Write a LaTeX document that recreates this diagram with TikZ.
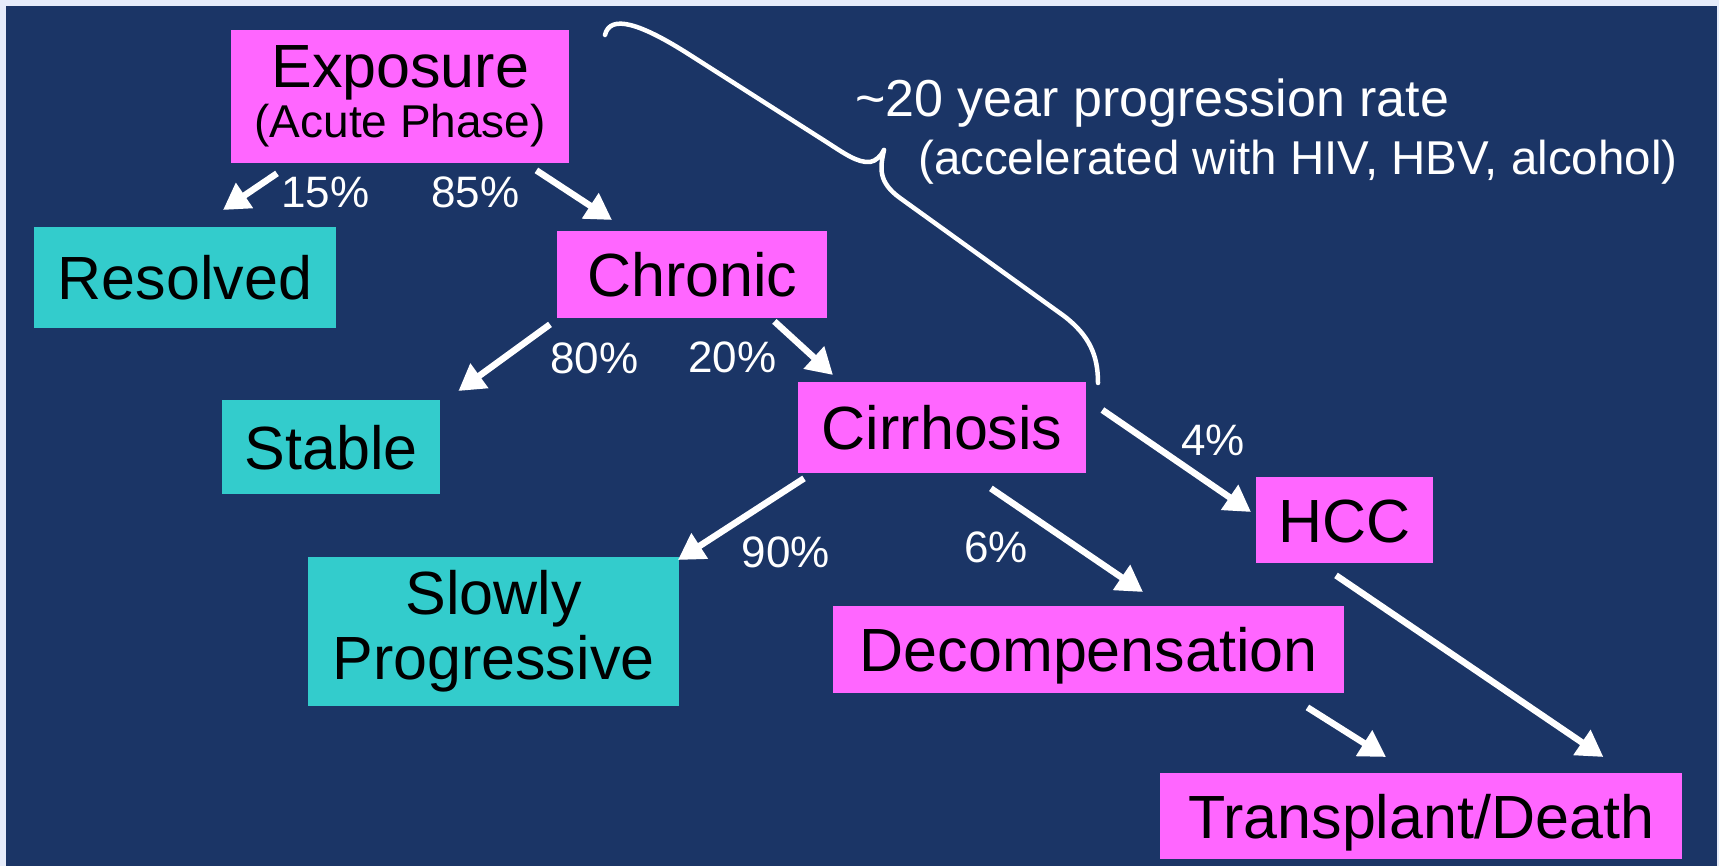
\documentclass[tikz,border=0pt]{standalone}
\usepackage{fontspec}
\setmainfont{Liberation Sans}
\usetikzlibrary{arrows.meta}
\definecolor{navy}{RGB}{27,53,102}
\definecolor{pale}{RGB}{230,236,250}
\definecolor{mag}{RGB}{255,102,255}
\definecolor{cyn}{RGB}{51,204,204}
\begin{document}
\begin{tikzpicture}[x=1pt,y=-1pt,
  box/.style={inner sep=0pt, anchor=north west, font=\fontsize{61}{65}\selectfont, text=black},
  oneline/.style={text height=43.7pt, text depth=0pt},
  magbox/.style={box, fill=mag},
  cynbox/.style={box, fill=cyn},
  pct/.style={text=white, font=\fontsize{44}{48}\selectfont, anchor=base, inner sep=0pt},
  note/.style={text=white, anchor=base west, inner sep=0pt},
  arr/.style={draw=white, line width=6.5pt, -{Triangle[length=26pt,width=29pt]}},
  brace/.style={draw=white, line width=4.5pt, line cap=round, line join=round}]
\fill[pale] (0,0) rectangle (1719,866);
\fill[navy] (6,6) rectangle (1717,866);
\useasboundingbox (0,0) rectangle (1719,866);

% boxes
\node[magbox, align=center, minimum width=338pt, minimum height=133pt, font=\fontsize{46}{50}\selectfont] (exp) at (231,30)
  {{\fontsize{61}{50}\selectfont Exposure}\\(Acute Phase)};
\node[cynbox, oneline, minimum width=302.5pt, minimum height=101pt] (res) at (33.5,227) {Resolved};
\node[magbox, oneline, minimum width=270pt, minimum height=87pt] (chr) at (557,231) {Chronic};
\node[cynbox, oneline, minimum width=218pt, minimum height=94pt] (sta) at (222,400) {Stable};
\node[magbox, oneline, minimum width=288pt, minimum height=91pt] (cir) at (798,382) {Cirrhosis};
\node[magbox, oneline, minimum width=177pt, minimum height=86pt] (hcc) at (1256,477) {HCC};
\node[cynbox, align=center, minimum width=370.5pt, minimum height=149pt] (slo) at (308,557) {Slowly\\Progressive};
\node[magbox, oneline, minimum width=511pt, minimum height=87pt] (dec) at (833,606) {Decompensation};
\node[magbox, oneline, minimum width=522pt, minimum height=86pt] (tra) at (1160,773) {Transplant/Death};

% percentages
\node[pct] (p15) at (325.5,208) {15\%};
\node[pct] (p85) at (475.5,208) {85\%};
\node[pct] (p80) at (594.5,374) {80\%};
\node[pct] (p20) at (732.5,373) {20\%};
\node[pct] (p90) at (786,567) {90\%};
\node[pct] (p6) at (996,562) {6\%};
\node[pct] (p4) at (1213,455) {4\%};

% notes
\node[note, font=\fontsize{52}{56}\selectfont] (rate) at (855,117) {\textasciitilde20 year progression rate};
\node[note, font=\fontsize{47.5}{50}\selectfont] (accel) at (918,175) {(accelerated with HIV, HBV, alcohol)};

% brace
\draw[brace] (605,35) .. controls (610,14) and (640,23) .. (690,55) -- (828,143)
  .. controls (845,154) and (858,163) .. (870,162) .. controls (876,161) and (881,156) .. (884,150);
\draw[brace] (884,150) .. controls (880,168) and (878,182) .. (900,198) -- (1064,316)
  .. controls (1090,336) and (1098,356) .. (1098,383);

% arrows
\draw[arr] ([shift={(46,10)}]exp.south west) -- ([shift={(189.5,-17)}]res.north west);
\draw[arr] ([shift={(-33,7)}]exp.south east) -- ([shift={(55,-11)}]chr.north west);
\draw[arr] ([shift={(-7,6)}]chr.south west) -- ([shift={(18,-9)}]sta.north east);
\draw[arr] ([shift={(-53,3)}]chr.south east) -- ([shift={(35,-7)}]cir.north west);
\draw[arr] ([shift={(6,5)}]cir.south west) -- ([shift={(-1,3)}]slo.north east);
\draw[arr] ([shift={(-95.5,15)}]cir.south east) -- ([shift={(310,-14)}]dec.north west);
\draw[arr] ([shift={(16,28)}]cir.north east) -- ([shift={(-5,35)}]hcc.north west);
\draw[arr] ([shift={(80,12)}]hcc.south west) -- ([shift={(-79,-16)}]tra.north east);
\draw[arr] ([shift={(-37,14)}]dec.south east) -- ([shift={(226,-16)}]tra.north west);
\end{tikzpicture}
\end{document}
